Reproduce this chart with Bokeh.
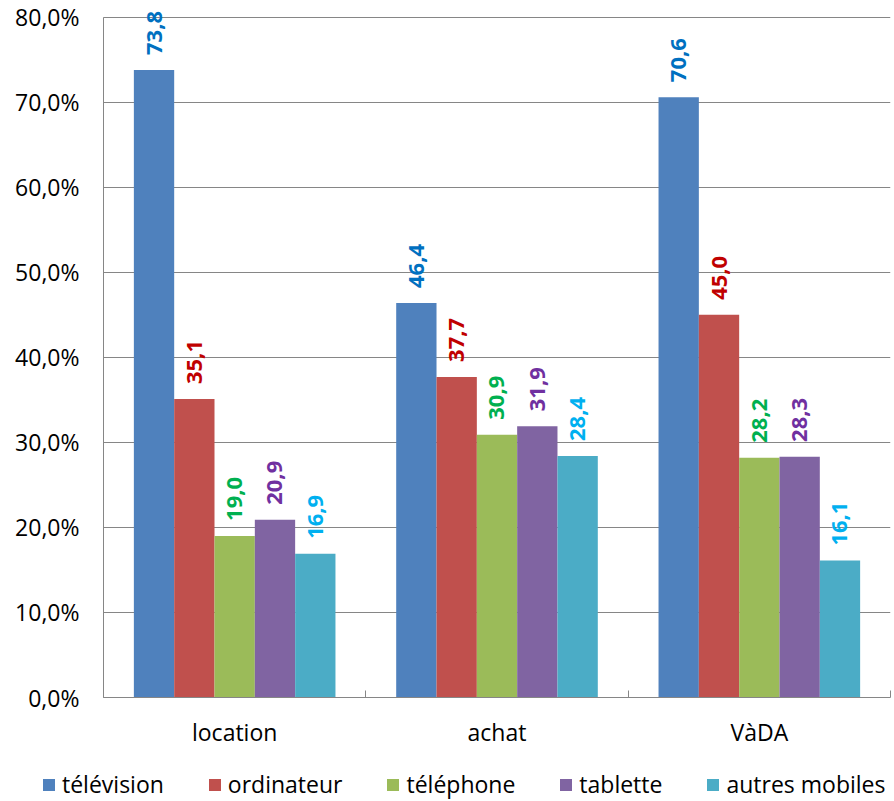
from math import pi
from bokeh.plotting import figure
from bokeh.layouts import column
from bokeh.models import (ColumnDataSource, Range1d, FixedTicker, LabelSet, Legend,
                          LegendItem)
from bokeh.transform import dodge
from bokeh.core.properties import value
from bokeh.embed import file_html
from bokeh.resources import INLINE

# ---- data ----
categories = ["location", "achat", "VàDA"]
series = ["télévision", "ordinateur", "téléphone", "tablette", "autres mobiles"]
television = [73.8, 46.4, 70.6]
ordinateur = [35.1, 37.7, 45.0]
telephone = [19.0, 30.9, 28.2]
tablette = [20.9, 31.9, 28.3]
autres_mobiles = [16.9, 28.4, 16.1]
values_by_series = [television, ordinateur, telephone, tablette, autres_mobiles]
y_ticks = [0, 10, 20, 30, 40, 50, 60, 70, 80]
y_tick_labels = ["0,0%", "10,0%", "20,0%", "30,0%", "40,0%", "50,0%", "60,0%", "70,0%", "80,0%"]

bar_colors = ["#4F81BD", "#C0504D", "#9BBB59", "#8064A2", "#4BACC6"]
label_colors = ["#0070C0", "#C00000", "#00B050", "#7030A0", "#00B0F0"]

FONT = "Open Sans"
FS = "23px"
bar_w = 0.1537
y_top = 81.5   # head-room above 80 % so the top value labels are not clipped

p = figure(width=894, height=760, output_backend="svg", toolbar_location=None,
           x_range=Range1d(0, len(categories)), y_range=Range1d(0, y_top),
           min_border_left=103, min_border_right=4, min_border_top=4, min_border_bottom=63)
p.outline_line_color = None
p.background_fill_color = "white"
p.frame_align = False

group_x = [i + 0.5 for i in range(len(categories))]

sources = []
for j, (name, vals) in enumerate(zip(series, values_by_series)):
    src = ColumnDataSource(dict(
        x=group_x, val=vals,
        lab=[f"{v:.1f}".replace(".", ",") for v in vals]))
    sources.append(src)
    off = (j - 2) * bar_w
    p.vbar(x=dodge("x", off, range=p.x_range), top="val", width=bar_w, bottom=0,
           source=src, fill_color=bar_colors[j], line_color=None)
    labels = LabelSet(x=dodge("x", off, range=p.x_range), y="val", text="lab", source=src,
                      angle=pi / 2, text_align="left", text_baseline="middle",
                      y_offset=15, x_offset=0,
                      text_font=value(FONT), text_font_style="bold", text_font_size="22px",
                      text_color=label_colors[j])
    p.add_layout(labels)

# y axis
p.yaxis.ticker = FixedTicker(ticks=y_ticks)
p.yaxis.bounds = (0, 80)
p.yaxis.major_label_overrides = {t: l for t, l in zip(y_ticks, y_tick_labels)}
p.yaxis.major_label_text_font = FONT
p.yaxis.major_label_text_font_size = FS
p.yaxis.major_label_text_color = "black"
p.yaxis.axis_line_color = "#868686"
p.yaxis.major_tick_line_color = "#868686"
p.yaxis.major_tick_in = 6
p.yaxis.major_tick_out = 0
p.yaxis.minor_tick_line_color = None
p.yaxis.major_label_standoff = 24

# x axis
p.xaxis.ticker = FixedTicker(ticks=group_x, minor_ticks=[0, 1, 2, 3])
p.xaxis.major_label_overrides = {x: c for x, c in zip(group_x, categories)}
p.xaxis.major_label_text_font = FONT
p.xaxis.major_label_text_font_size = FS
p.xaxis.major_label_text_color = "black"
p.xaxis.axis_line_color = "#868686"
p.xaxis.major_tick_line_color = None
p.xaxis.major_tick_in = 0
p.xaxis.major_tick_out = 0
p.xaxis.minor_tick_line_color = "#868686"
p.xaxis.minor_tick_in = 7
p.xaxis.minor_tick_out = 0
p.xaxis.major_label_standoff = 18

p.xgrid.visible = False
p.ygrid.ticker = FixedTicker(ticks=y_ticks)
p.ygrid.grid_line_color = "#868686"

# ---- legend strip (same series, drawn far out of view; only the legend shows) ----
leg = figure(width=894, height=41, output_backend="svg", toolbar_location=None,
             x_range=Range1d(0, len(categories)), y_range=Range1d(1000, 1001),
             x_axis_location=None, y_axis_location=None,
             min_border_left=0, min_border_right=0, min_border_top=0, min_border_bottom=0)
leg.outline_line_color = None
leg.frame_align = False
leg.xgrid.visible = False
leg.ygrid.visible = False
items = []
for j, name in enumerate(series):
    off = (j - 2) * bar_w
    r = leg.vbar(x=dodge("x", off, range=leg.x_range), top="val", width=bar_w, bottom=0,
                 source=sources[j], fill_color=bar_colors[j], line_color=None)
    items.append(LegendItem(label=name, renderers=[r]))
legend = Legend(items=items, orientation="horizontal", location=(41, 1),
                glyph_width=15, glyph_height=15, label_standoff=6, spacing=43,
                padding=0, margin=0, border_line_color=None, background_fill_alpha=0,
                label_text_font=FONT, label_text_font_size=FS, label_text_color="black")
leg.add_layout(legend)

layout = column(p, leg, spacing=0)
open("out.html", "w").write(file_html(layout, INLINE))
